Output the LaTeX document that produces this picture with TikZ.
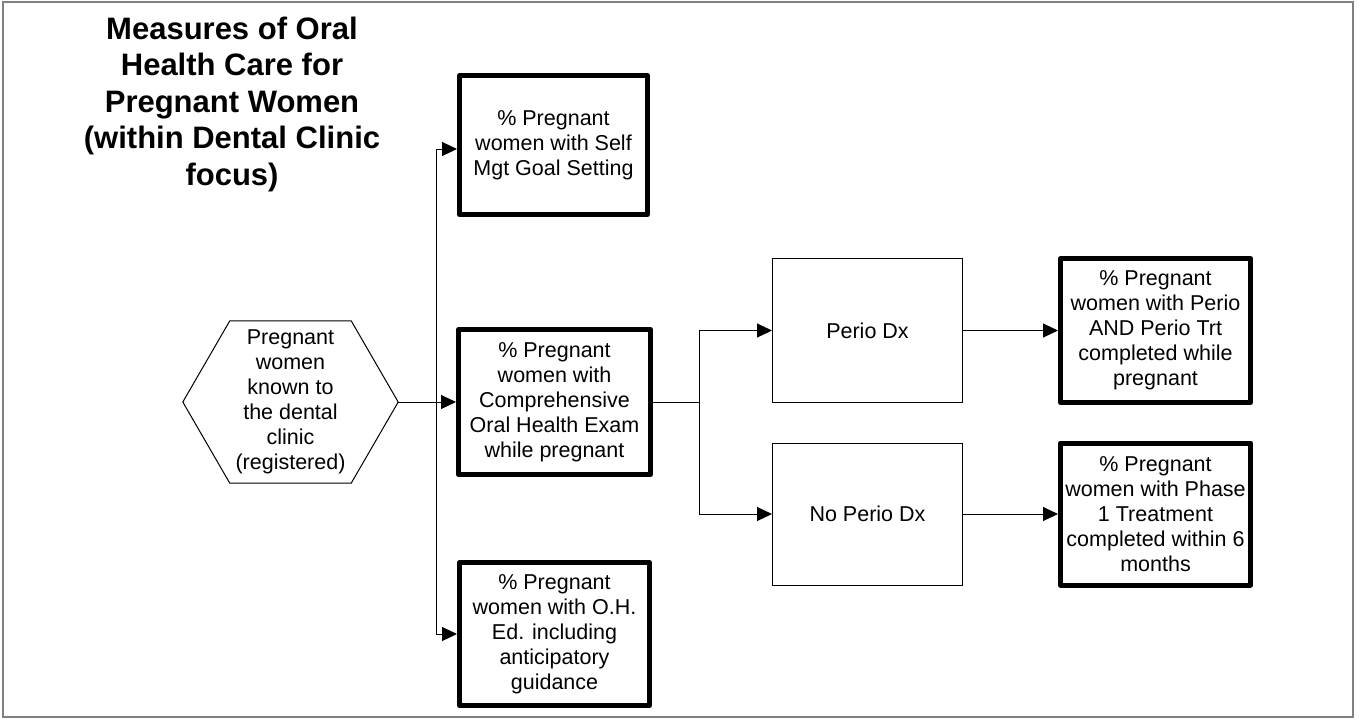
\documentclass[tikz,border=0pt]{standalone}
\usepackage{fontspec}
\setmainfont{Liberation Sans}
\usetikzlibrary{arrows.meta,calc}
\tikzset{
  txt/.style={font=\fontsize{21.5}{25}\selectfont, align=center, inner sep=2pt},
  thickbox/.style={txt, draw=black, line width=5pt, line join=round},
  thinbox/.style={txt, draw=black, line width=1pt},
  conn/.style={draw=black, line width=1pt},
  arr/.style={conn, -{Triangle[length=15pt,width=14pt]}},
  titletxt/.style={font=\fontsize{31}{36.5}\selectfont\bfseries, align=center, inner sep=0pt}
}
\begin{document}
\begin{tikzpicture}[x=1pt,y=-1pt]
\useasboundingbox (0,0) rectangle (1359,724);
\draw[gray, line width=1.2pt] (3,2) rectangle (1353,717);

\node[titletxt] (title) at (232,104) {Measures of Oral\\Health Care for\\Pregnant Women\\(within Dental Clinic\\focus)};

% hexagon start node
\node[txt, minimum width=215pt, minimum height=162pt] (hex) at (290.5,402) {Pregnant\\women\\known to\\the dental\\clinic\\(registered)};
\draw[line width=1pt, line join=miter] (hex.west) -- ($(hex.north west)+(47,0)$) -- ($(hex.north east)+(-47,0)$) -- (hex.east) -- ($(hex.south east)+(-47,0)$) -- ($(hex.south west)+(47,0)$) -- cycle;

\node[thickbox, minimum width=188pt, minimum height=139pt] (b1) at (553.5,145) {\% Pregnant\\women with Self\\Mgt Goal Setting};
\node[thickbox, minimum width=192pt, minimum height=145pt] (b2) at (554.5,402) {\% Pregnant\\women with\\Comprehensive\\Oral Health Exam\\while pregnant};
\node[thickbox, minimum width=190pt, minimum height=143pt] (b3) at (554.5,634) {\% Pregnant\\women with O.H.\\Ed. including\\anticipatory\\guidance};

\node[thinbox, minimum width=190pt, minimum height=144pt] (perio) at (867.5,330.5) {Perio Dx};
\node[thinbox, minimum width=190pt, minimum height=142pt] (noperio) at (867.5,514) {No Perio Dx};

\node[thickbox, minimum width=190pt, minimum height=144pt] (r1) at (1155.5,330.5) {\% Pregnant\\women with Perio\\AND Perio Trt\\completed while\\pregnant};
\node[thickbox, minimum width=190pt, minimum height=142pt] (r2) at (1155.5,514) {\% Pregnant\\women with Phase\\1 Treatment\\completed within 6\\months};

\coordinate (j1) at (436,402);
\coordinate (j2) at (699,402);

\draw[arr] (hex.east) -- (b2.west);
\draw[arr] (j1) |- ([yshift=-4pt]b1.west);
\draw[arr] (j1) |- (b3.west);
\draw[conn] (b2.east) -- (j2);
\draw[arr] (j2) |- (perio.west);
\draw[arr] (j2) |- (noperio.west);
\draw[arr] (perio.east) -- (r1.west);
\draw[arr] (noperio.east) -- (r2.west);
\end{tikzpicture}
\end{document}
